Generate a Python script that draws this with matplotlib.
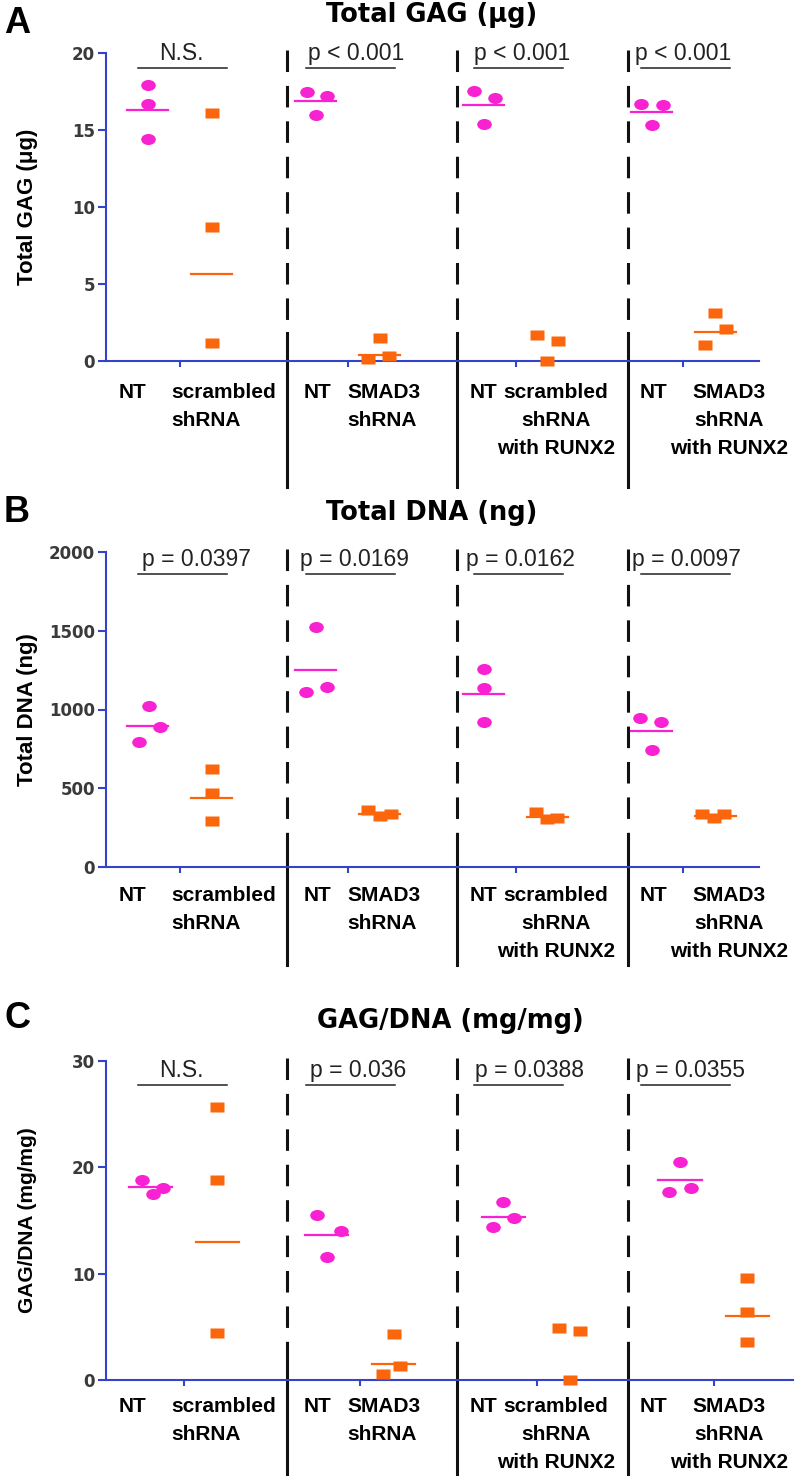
import matplotlib
matplotlib.use('Agg')
import matplotlib.pyplot as plt
import matplotlib.transforms as mtransforms
from matplotlib.markers import MarkerStyle
from matplotlib.path import Path

plt.rcParams['lines.scale_dashes'] = False

# ---------------- data ----------------
treat_labels = ['scrambled\nshRNA', 'SMAD3\nshRNA',
                'scrambled\nshRNA\nwith RUNX2', 'SMAD3\nshRNA\nwith RUNX2']

gag_nt = [[17.9, 16.7, 14.4], [17.5, 17.2, 16.0], [17.55, 17.1, 15.4], [16.7, 16.6, 15.3]]
gag_tr = [[16.1, 8.7, 1.2], [1.5, 0.3, 0.1], [1.7, 1.3, 0.0], [3.1, 2.05, 1.05]]
gag_nt_line = [16.3, 16.9, 16.65, 16.2]
gag_tr_line = [5.65, 0.4, None, 1.9]
gag_p = ['N.S.', 'p < 0.001', 'p < 0.001', 'p < 0.001']

dna_nt = [[1020, 887, 792], [1524, 1142, 1113], [1259, 1138, 919], [943, 919, 745]]
dna_tr = [[624, 469, 293], [359, 336, 325], [352, 310, 304], [336, 336, 310]]
dna_nt_line = [896, 1248, 1096, 862]
dna_tr_line = [441, 336, 320, 325]
dna_p = ['p = 0.0397', 'p = 0.0169', 'p = 0.0162', 'p = 0.0097']

ratio_nt = [[18.8, 18.1, 17.5], [15.5, 14.0, 11.6], [16.7, 15.2, 14.4], [20.5, 18.05, 17.7]]
ratio_tr = [[25.7, 18.8, 4.4], [4.3, 1.3, 0.6], [4.9, 4.6, 0.0], [9.6, 6.35, 3.6]]
ratio_nt_line = [18.15, 13.6, 15.3, 18.8]
ratio_tr_line = [13.0, 1.5, None, 6.0]
ratio_p = ['N.S.', 'p = 0.036', 'p = 0.0388', 'p = 0.0355']

# ---------------- layout (point scatter inside each column) ----------------
gag_nt_jit = [[0, 0, 0], [-0.055, 0.065, 0], [-0.06, 0.066, 0], [-0.06, 0.066, 0]]
gag_tr_jit = [[0, 0, 0], [0, 0.055, -0.07], [-0.065, 0.06, 0], [0, 0.066, -0.06]]
dna_nt_jit = [[0.005, 0.07, -0.055], [0, 0.065, -0.06], [0, 0, 0], [-0.07, 0.055, 0]]
dna_tr_jit = [[0, 0, 0], [-0.07, 0.065, 0], [-0.07, 0.055, -0.005], [-0.08, 0.05, -0.01]]
ratio_nt_jit = [[-0.045, 0.075, 0.015], [-0.055, 0.08, 0], [0, 0.06, -0.06], [0, 0.06, -0.06]]
ratio_tr_jit = [[0, 0, 0], [0, 0.035, -0.06], [-0.065, 0.055, 0], [0, 0, 0]]

PINK = '#f922d2'
ORANGE = '#fb660c'
BLUE = '#3444c8'
W, H = 796, 1476

fig = plt.figure(figsize=(W / 100, H / 100), dpi=100)


def px_axes(left, top, right, bottom):
    return fig.add_axes([left / W, 1 - bottom / H, (right - left) / W, (bottom - top) / H])


axA = px_axes(106, 53, 759, 361)
axB = px_axes(106, 552, 759, 867)
axC = px_axes(106, 1061, 793, 1380)

dot = MarkerStyle(Path.unit_circle().transformed(mtransforms.Affine2D().scale(1.0, 0.76)))
sq = MarkerStyle(Path([(-1, -0.75), (1, -0.75), (1, 0.75), (-1, 0.75), (-1, -0.75)],
                      [1, 2, 2, 2, 79]))

panels = [
    dict(ax=axA, nt=gag_nt, tr=gag_tr, ntl=gag_nt_line, trl=gag_tr_line, p=gag_p,
         ntj=gag_nt_jit, trj=gag_tr_jit, ylim=(0, 20), yt=[0, 5, 10, 15, 20],
         ylabel='Total GAG (\u03bcg)', ylsize=16, title='Total GAG (\u03bcg)',
         tpos=(432, 22), letter='A', lpos=33, by=19.0,
         pdx=[0.01, 0.05, 0.04, 0.0], lab_gap=16, sep_end=-0.41),
    dict(ax=axB, nt=dna_nt, tr=dna_tr, ntl=dna_nt_line, trl=dna_tr_line, p=dna_p,
         ntj=dna_nt_jit, trj=dna_tr_jit, ylim=(0, 2000), yt=[0, 500, 1000, 1500, 2000],
         ylabel='Total DNA (ng)', ylsize=16, title='Total DNA (ng)',
         tpos=(432, 520), letter='B', lpos=522, by=1860,
         pdx=[0.10, 0.04, 0.03, 0.02], lab_gap=14, sep_end=-0.31),
    dict(ax=axC, nt=ratio_nt, tr=ratio_tr, ntl=ratio_nt_line, trl=ratio_tr_line, p=ratio_p,
         ntj=ratio_nt_jit, trj=ratio_tr_jit, ylim=(0, 30), yt=[0, 10, 20, 30],
         ylabel='GAG/DNA (mg/mg)', ylsize=15, title='GAG/DNA (mg/mg)',
         tpos=(450, 1028), letter='C', lpos=1028, by=27.7,
         pdx=[0.01, 0.06, 0.08, 0.04], lab_gap=12, sep_end=-0.30),
]

sep_x = [0.64, 1.65, 2.67]
nt_lab_x = [-0.28, 0.82, 1.81, 2.82]
tr_lab_x = [-0.05, 1.0, 2.24, 3.27]
tr_lab_ha = ['left', 'left', 'center', 'center']
off = 0.19
hw = 0.122

for P in panels:
    ax = P['ax']
    ax.set_xlim(-0.44, 3.45)
    ax.set_ylim(*P['ylim'])
    for s in ['top', 'right']:
        ax.spines[s].set_visible(False)
    for s in ['left', 'bottom']:
        ax.spines[s].set_color(BLUE)
        ax.spines[s].set_linewidth(1.5)
    ax.set_yticks(P['yt'])
    ax.set_yticklabels([str(v) for v in P['yt']], fontsize=12, fontweight='bold',
                       family='DejaVu Sans', color='#3a3a3a')
    ax.tick_params(axis='y', colors=BLUE, length=6, width=1.5, pad=2, labelcolor='#3a3a3a')
    ax.set_xticks(range(4))
    ax.set_xticklabels([])
    ax.tick_params(axis='x', colors=BLUE, length=4, width=1.5)

    for k in range(4):
        xn = k - off
        xt = k + off
        ax.plot([xn + j for j in P['ntj'][k]], P['nt'][k], ls='none', marker=dot, ms=10.5,
                mfc=PINK, mec='none', clip_on=False, zorder=3)
        ax.plot([xt + j for j in P['trj'][k]], P['tr'][k], ls='none', marker=sq, ms=10.5,
                mfc=ORANGE, mec='none', clip_on=False, zorder=3)
        ax.plot([xn - hw, xn + hw], [P['ntl'][k]] * 2, color=PINK, lw=1.6, zorder=4)
        if P['trl'][k] is not None:
            ax.plot([xt - hw, xt + hw], [P['trl'][k]] * 2, color=ORANGE, lw=1.6, zorder=4)

    # overlay items share the horizontal placement of panel A
    tx = mtransforms.blended_transform_factory(axA.transData, ax.transAxes)
    txy = mtransforms.blended_transform_factory(axA.transData, ax.transData)

    for sx in sep_x:
        ax.plot([sx, sx], [1.01, 0.09], transform=tx, color='#111111', lw=2.2,
                ls=(0, (15.5, 10)), clip_on=False)
        ax.plot([sx, sx], [0.09, P['sep_end']], transform=tx, color='#111111', lw=2.2,
                clip_on=False)

    for k in range(4):
        ax.plot([k - 0.25, k + 0.28], [P['by']] * 2, transform=txy, color='#222222',
                lw=1.1, clip_on=False)
        ax.annotate(P['p'][k], xy=(k + P['pdx'][k], P['by']), xycoords=txy,
                    xytext=(0, 6), textcoords='offset points', ha='center', va='baseline',
                    fontsize=16.5, family='Liberation Sans', color='#222222')
        ax.annotate('NT', xy=(nt_lab_x[k], 0), xycoords=tx, xytext=(0, -P['lab_gap']),
                    textcoords='offset points', ha='center', va='top', fontsize=15,
                    fontweight='bold', family='Liberation Sans')
        ax.annotate(treat_labels[k], xy=(tr_lab_x[k], 0), xycoords=tx,
                    xytext=(0, -P['lab_gap']), textcoords='offset points',
                    ha=tr_lab_ha[k], multialignment=tr_lab_ha[k], va='top', fontsize=15,
                    fontweight='bold', family='Liberation Sans', linespacing=1.6)

    ax.text((28 - 106) / (ax.get_position().width * W), 0.5, P['ylabel'], rotation=90,
            ha='center', va='center', transform=ax.transAxes, fontsize=P['ylsize'],
            fontweight='bold', family='Liberation Sans')

    fig.text(P['tpos'][0] / W, 1 - P['tpos'][1] / H, P['title'], ha='center', va='baseline',
             fontsize=18.5, fontweight='bold', family='DejaVu Sans')
    fig.text(4 / W, 1 - P['lpos'] / H, P['letter'], ha='left', va='baseline',
             fontsize=26, fontweight='bold', family='Liberation Sans')

fig.savefig('out.png', dpi=100)
